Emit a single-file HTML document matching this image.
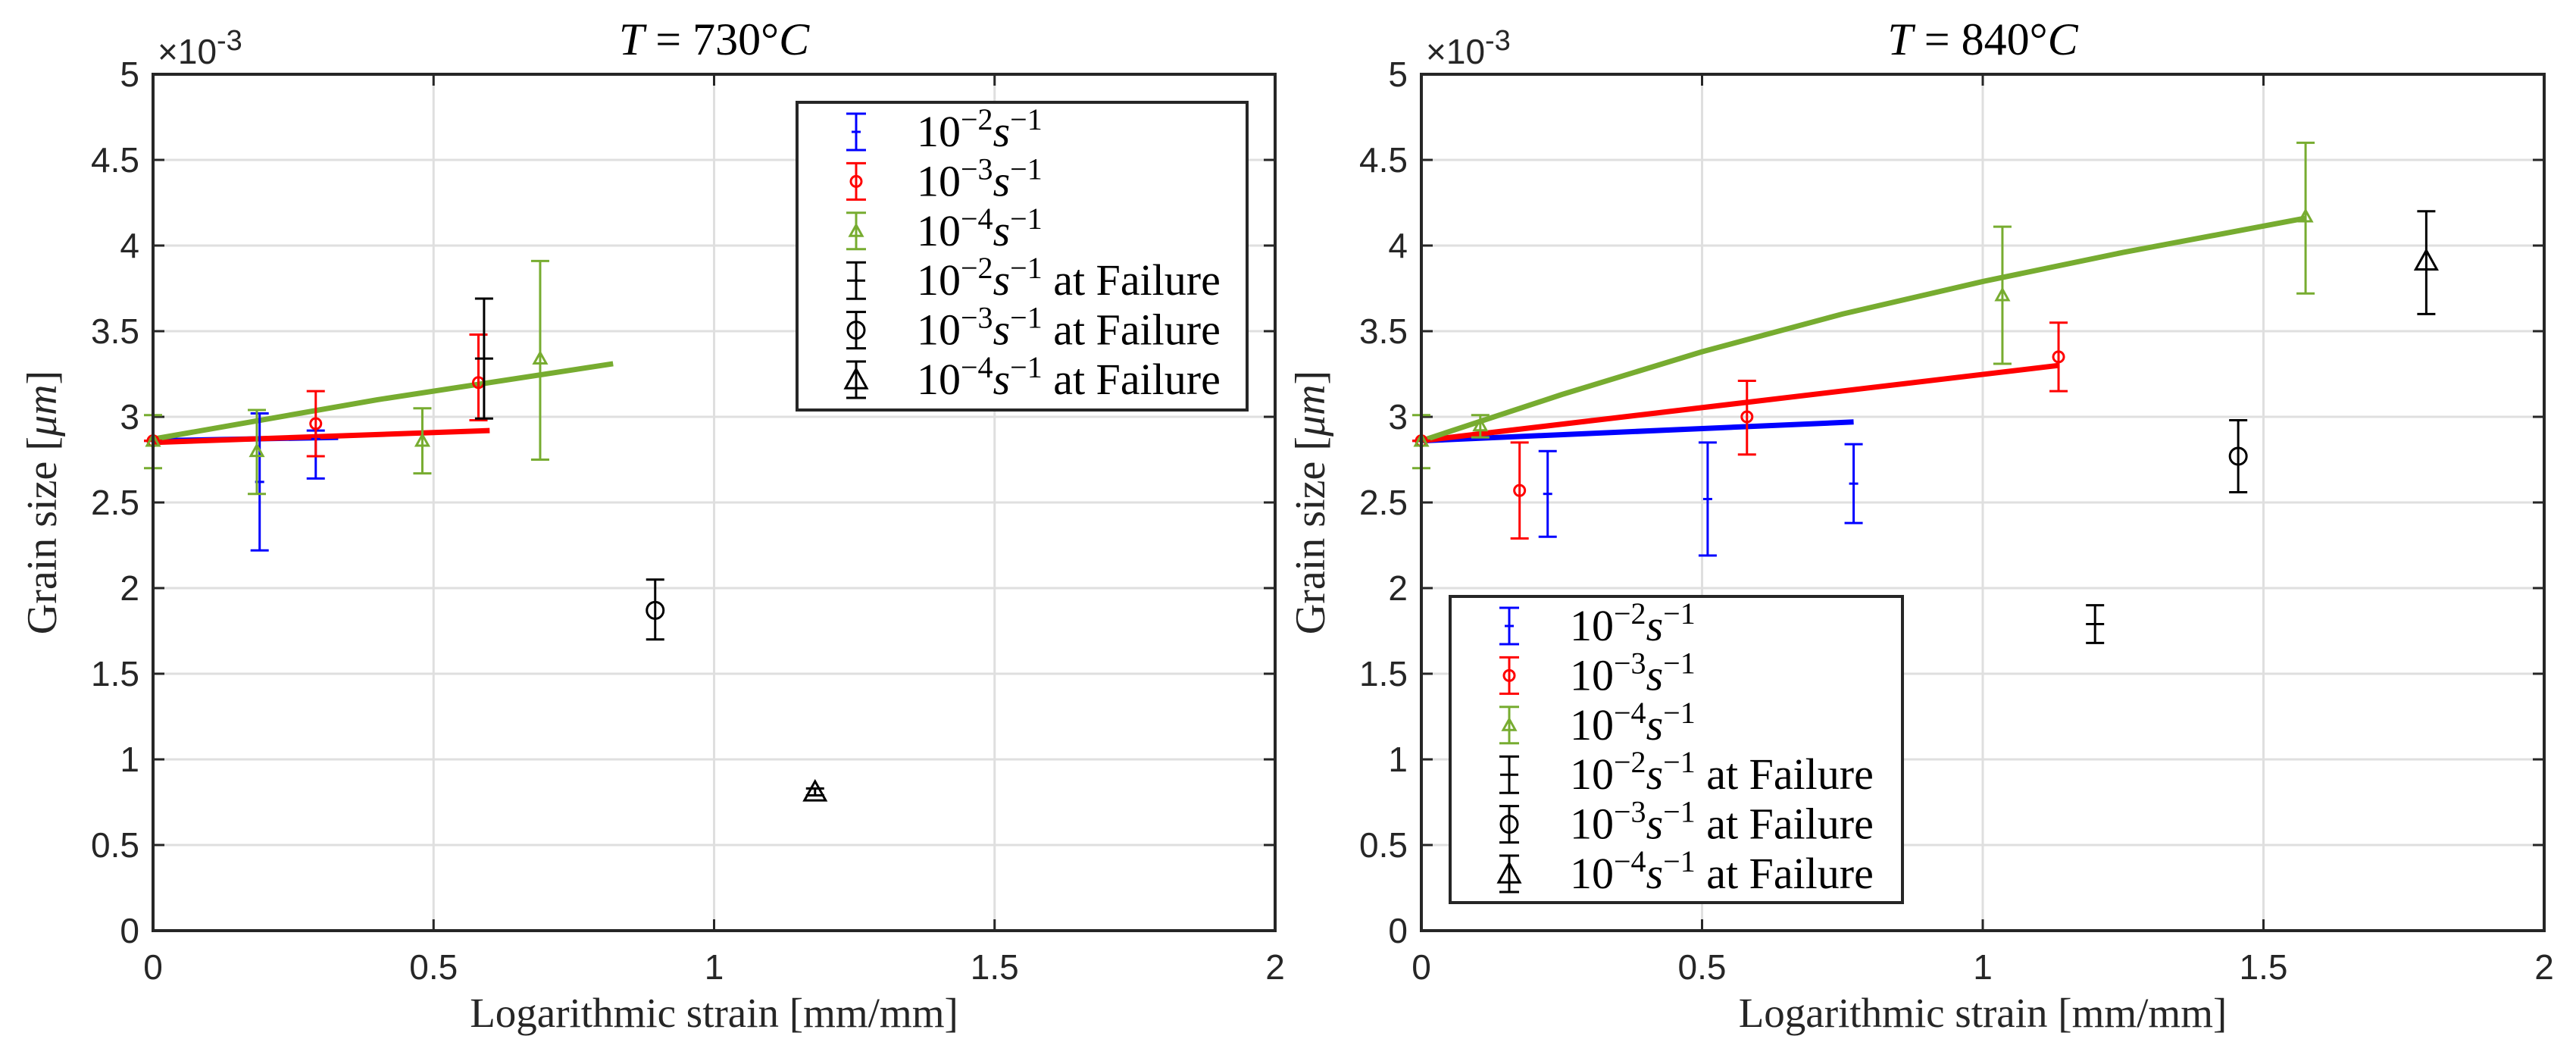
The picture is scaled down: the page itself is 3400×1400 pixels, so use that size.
<!DOCTYPE html>
<html><head><meta charset="utf-8"><style>
html,body{margin:0;padding:0;background:#fff;}
svg{display:block;}
</style></head><body>
<svg id="fig" width="3400" height="1400" viewBox="0 0 3400 1400" xmlns="http://www.w3.org/2000/svg"></svg>
<script>
// ---------- data: left panel (T = 730°C) ----------
const L_b_x = [0, 0.19, 0.29];      const L_b_y = [2.86, 2.62, 2.87];  const L_b_lo = [2.86, 2.22, 2.64]; const L_b_hi = [2.86, 3.02, 2.92];
const L_r_x = [0, 0.29, 0.58];      const L_r_y = [2.86, 2.96, 3.20];  const L_r_lo = [2.86, 2.77, 2.98]; const L_r_hi = [2.86, 3.15, 3.48];
const L_g_x = [0, 0.185, 0.48, 0.69]; const L_g_y = [2.86, 2.80, 2.86, 3.34]; const L_g_lo = [2.70, 2.55, 2.67, 2.75]; const L_g_hi = [3.01, 3.04, 3.05, 3.91];
const L_f2_x = [0.59]; const L_f2_y = [3.34]; const L_f2_lo = [2.99]; const L_f2_hi = [3.69];
const L_f3_x = [0.895]; const L_f3_y = [1.87]; const L_f3_lo = [1.70]; const L_f3_hi = [2.05];
const L_f4_x = [1.18]; const L_f4_y = [0.81]; const L_f4_lo = [0.79]; const L_f4_hi = [0.83];
const L_fitb_x = [0, 0.33]; const L_fitb_y = [2.86, 2.88];
const L_fitr_x = [0, 0.6];  const L_fitr_y = [2.85, 2.92];
const L_fitg_x = [0, 0.4, 0.82]; const L_fitg_y = [2.87, 3.10, 3.31];
// ---------- data: right panel (T = 840°C) ----------
const R_b_x = [0, 0.225, 0.51, 0.77]; const R_b_y = [2.86, 2.55, 2.52, 2.61]; const R_b_lo = [2.86, 2.30, 2.19, 2.38]; const R_b_hi = [2.86, 2.80, 2.85, 2.84];
const R_r_x = [0, 0.175, 0.58, 1.135]; const R_r_y = [2.86, 2.57, 3.00, 3.35]; const R_r_lo = [2.86, 2.29, 2.78, 3.15]; const R_r_hi = [2.86, 2.85, 3.21, 3.55];
const R_g_x = [0, 0.105, 1.035, 1.575]; const R_g_y = [2.86, 2.95, 3.71, 4.17]; const R_g_lo = [2.70, 2.88, 3.31, 3.72]; const R_g_hi = [3.01, 3.01, 4.11, 4.60];
const R_f2_x = [1.2]; const R_f2_y = [1.79]; const R_f2_lo = [1.68]; const R_f2_hi = [1.90];
const R_f3_x = [1.455]; const R_f3_y = [2.77]; const R_f3_lo = [2.56]; const R_f3_hi = [2.98];
const R_f4_x = [1.79]; const R_f4_y = [3.91]; const R_f4_lo = [3.60]; const R_f4_hi = [4.20];
const R_fitb_x = [0, 0.77]; const R_fitb_y = [2.86, 2.97];
const R_fitr_x = [0, 1.135]; const R_fitr_y = [2.86, 3.30];
const R_fitg_x = [0, 0.25, 0.5, 0.75, 1.0, 1.25, 1.575]; const R_fitg_y = [2.86, 3.13, 3.38, 3.60, 3.79, 3.96, 4.16];
// ticks
const xTicks = [0, 0.5, 1, 1.5, 2]; const xTickLabels = ['0','0.5','1','1.5','2'];
const yTicks = [0,0.5,1,1.5,2,2.5,3,3.5,4,4.5,5]; const yTickLabels = ['0','0.5','1','1.5','2','2.5','3','3.5','4','4.5','5'];
const legendLabels = ['-2','-3','-4','-2','-3','-4'];

const NS = 'http://www.w3.org/2000/svg';
const svg = document.getElementById('fig');
const BLUE='#0000ff', RED='#ff0000', GREEN='#77ac30', BLACK='#000000', AX='#262626';
function mk(tag, attrs, parent){ const e=document.createElementNS(NS,tag); for(const k in attrs) e.setAttribute(k,attrs[k]); (parent||svg).appendChild(e); return e; }

function panel(cfg){
  const g = mk('g',{});
  
  
  const x0=cfg.x0, x1=cfg.x1, y0=98, y1=1228;
  const sx = v => x0 + v/2*(x1-x0);
  const sy = v => y1 - v/5*(y1-y0);
  xTicks.forEach((t,i)=>{ const l=mk('line',{x1:sx(t),x2:sx(t),y1:y0,y2:y1,stroke:'#dfdfdf','stroke-width':3},g);
      });
  yTicks.forEach(t=>{ const l=mk('line',{x1:x0,x2:x1,y1:sy(t),y2:sy(t),stroke:'#dfdfdf','stroke-width':3},g);
      });
  xTicks.forEach(t=>{ mk('line',{x1:sx(t),x2:sx(t),y1:y1,y2:y1-15,stroke:AX,'stroke-width':3},g); mk('line',{x1:sx(t),x2:sx(t),y1:y0,y2:y0+15,stroke:AX,'stroke-width':3},g); });
  yTicks.forEach(t=>{ mk('line',{x1:x0,x2:x0+15,y1:sy(t),y2:sy(t),stroke:AX,'stroke-width':3},g); mk('line',{x1:x1,x2:x1-15,y1:sy(t),y2:sy(t),stroke:AX,'stroke-width':3},g); });
  xTicks.forEach((t,i)=>{ const tx=mk('text',{x:sx(t),y:1292,'font-family':'Liberation Sans, sans-serif','font-size':46,fill:AX,'text-anchor':'middle'},g); tx.textContent=xTickLabels[i];
      });
  yTicks.forEach((t,i)=>{ const tx=mk('text',{x:x0-18,y:sy(t)+16,'font-family':'Liberation Sans, sans-serif','font-size':46,fill:AX,'text-anchor':'end'},g); tx.textContent=yTickLabels[i];
      });
  const ex=mk('text',{x:x0+6,y:84,'font-family':'Liberation Sans, sans-serif','font-size':46,fill:AX},g);
   
  ex.innerHTML='×10<tspan dy="-18" font-size="38">-3</tspan>';
  const ti=mk('text',{x:(x0+x1)/2,y:72,'font-family':'Liberation Serif, serif','font-size':60,fill:BLACK,'text-anchor':'middle'},g);
   
  ti.innerHTML='<tspan font-style="italic">T</tspan> = '+cfg.temp+'°<tspan font-style="italic">C</tspan>';
  const xl=mk('text',{x:(x0+x1)/2,y:1355,'font-family':'Liberation Serif, serif','font-size':55,fill:AX,'text-anchor':'middle'},g);
   
  xl.textContent='Logarithmic strain [mm/mm]';
  const yl=mk('text',{x:0,y:0,'font-family':'Liberation Serif, serif','font-size':56,fill:AX,'text-anchor':'middle',transform:'translate('+(x0-128)+',663) rotate(-90)'},g);
   
  yl.innerHTML='Grain size [<tspan font-style="italic">μm</tspan>]';
  cfg.fits.forEach(f=>{ const pts=f.x.map((v,i)=>sx(v)+','+sy(f.y[i])).join(' ');
    const p=mk('polyline',{points:pts,fill:'none',stroke:f.c,'stroke-width':7},g);
      });
  cfg.series.forEach(s=>{
    const sg=mk('g',{},g);
     
    s.x.forEach((v,i)=>{
      const X=sx(v), cap=12, w=s.w||3;
      mk('line',{x1:X,x2:X,y1:sy(s.lo[i]),y2:sy(s.hi[i]),stroke:s.c,'stroke-width':w},sg);
      mk('line',{x1:X-cap,x2:X+cap,y1:sy(s.lo[i]),y2:sy(s.lo[i]),stroke:s.c,'stroke-width':w},sg);
      mk('line',{x1:X-cap,x2:X+cap,y1:sy(s.hi[i]),y2:sy(s.hi[i]),stroke:s.c,'stroke-width':w},sg);
      marker(sg,s.m,X,sy(s.y[i]),s.c,s.big);
    });
  });
  const bx=mk('rect',{x:x0,y:y0,width:x1-x0,height:y1-y0,fill:'none',stroke:AX,'stroke-width':4},g);
   
  const L=cfg.leg;
  const lg=mk('g',{},g);
   
  mk('rect',{x:L.x,y:L.y,width:L.w,height:L.h,fill:'#fff',stroke:AX,'stroke-width':4},lg);
  const ent=[[BLUE,'plus',false],[RED,'circle',false],[GREEN,'tri',false],[BLACK,'plus',true],[BLACK,'circle',true],[BLACK,'tri',true]];
  ent.forEach((e,i)=>{
    const cy=L.y+39+i*65.4, mx=L.x+78;
    const eg=mk('g',{},lg);
     
    mk('line',{x1:mx,x2:mx,y1:cy-24,y2:cy+24,stroke:e[0],'stroke-width':3},eg);
    mk('line',{x1:mx-13,x2:mx+13,y1:cy-24,y2:cy-24,stroke:e[0],'stroke-width':3},eg);
    mk('line',{x1:mx-13,x2:mx+13,y1:cy+24,y2:cy+24,stroke:e[0],'stroke-width':3},eg);
    marker(eg,e[1],mx,cy,e[0],e[2]);
    const t=mk('text',{x:L.x+158,y:cy+19,'font-family':'Liberation Serif, serif','font-size':58,fill:BLACK},eg);
    t.innerHTML='10<tspan dy="-22" font-size="40">−'+legendLabels[i].slice(1)+'</tspan><tspan dy="22" font-style="italic">s</tspan><tspan dy="-22" font-size="40">−1</tspan>'+(e[2]?'<tspan dy="22"> at Failure</tspan>':'');
  });
}
function marker(parent,m,X,Y,c,big){
  if(m==='plus'){ mk('line',{x1:X-(big?12:6),x2:X+(big?12:6),y1:Y,y2:Y,stroke:c,'stroke-width':3},parent); }
  else if(m==='circle'){ const r=big?11:7; mk('circle',{cx:X,cy:Y,r:r,fill:'none',stroke:c,'stroke-width':3},parent); }
  else if(m==='tri'){ const s=big?14:8; mk('polygon',{points:(X)+','+(Y-s)+' '+(X-s)+','+(Y+s*0.8)+' '+(X+s)+','+(Y+s*0.8),fill:'none',stroke:c,'stroke-width':3},parent); }
}
panel({name:'left-panel-730C',x0:202,x1:1683,temp:'730',
  fits:[{name:'fit-line-1e-2',x:L_fitb_x,y:L_fitb_y,c:BLUE},{name:'fit-line-1e-3',x:L_fitr_x,y:L_fitr_y,c:RED},{name:'fit-line-1e-4',x:L_fitg_x,y:L_fitg_y,c:GREEN}],
  series:[{name:'series-1e-2',x:L_b_x,y:L_b_y,lo:L_b_lo,hi:L_b_hi,c:BLUE,m:'plus'},
          {name:'series-1e-3',x:L_r_x,y:L_r_y,lo:L_r_lo,hi:L_r_hi,c:RED,m:'circle'},
          {name:'series-1e-4',x:L_g_x,y:L_g_y,lo:L_g_lo,hi:L_g_hi,c:GREEN,m:'tri'},
          {name:'failure-1e-2',x:L_f2_x,y:L_f2_y,lo:L_f2_lo,hi:L_f2_hi,c:BLACK,m:'plus',big:true},
          {name:'failure-1e-3',x:L_f3_x,y:L_f3_y,lo:L_f3_lo,hi:L_f3_hi,c:BLACK,m:'circle',big:true},
          {name:'failure-1e-4',x:L_f4_x,y:L_f4_y,lo:L_f4_lo,hi:L_f4_hi,c:BLACK,m:'tri',big:true}],
  leg:{x:1052,y:135,w:594,h:406}});
panel({name:'right-panel-840C',x0:1876,x1:3358,temp:'840',
  fits:[{name:'fit-line-1e-2',x:R_fitb_x,y:R_fitb_y,c:BLUE},{name:'fit-line-1e-3',x:R_fitr_x,y:R_fitr_y,c:RED},{name:'fit-line-1e-4',x:R_fitg_x,y:R_fitg_y,c:GREEN}],
  series:[{name:'series-1e-2',x:R_b_x,y:R_b_y,lo:R_b_lo,hi:R_b_hi,c:BLUE,m:'plus'},
          {name:'series-1e-3',x:R_r_x,y:R_r_y,lo:R_r_lo,hi:R_r_hi,c:RED,m:'circle'},
          {name:'series-1e-4',x:R_g_x,y:R_g_y,lo:R_g_lo,hi:R_g_hi,c:GREEN,m:'tri'},
          {name:'failure-1e-2',x:R_f2_x,y:R_f2_y,lo:R_f2_lo,hi:R_f2_hi,c:BLACK,m:'plus',big:true},
          {name:'failure-1e-3',x:R_f3_x,y:R_f3_y,lo:R_f3_lo,hi:R_f3_hi,c:BLACK,m:'circle',big:true},
          {name:'failure-1e-4',x:R_f4_x,y:R_f4_y,lo:R_f4_lo,hi:R_f4_hi,c:BLACK,m:'tri',big:true}],
  leg:{x:1914,y:787,w:597,h:404}});
</script>
</body></html>
